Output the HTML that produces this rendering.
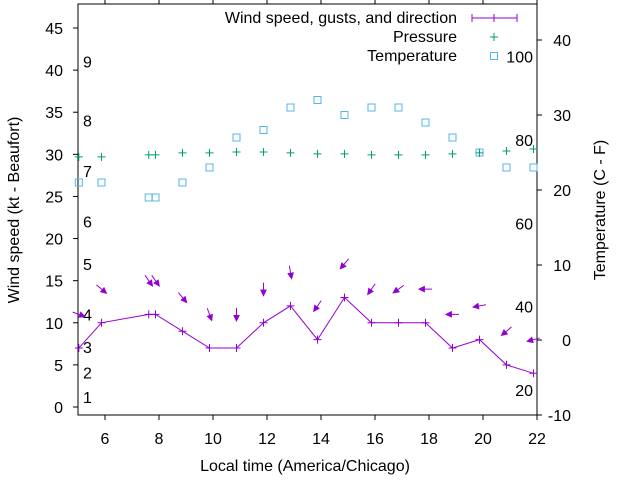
<!DOCTYPE html>
<html><head><meta charset="utf-8"><style>
body{margin:0;background:#fff}
svg{display:block;font-family:"Liberation Sans",sans-serif;font-size:16px}
</style></head><body>
<svg id="chart" width="640" height="480" viewBox="0 0 640 480">
<g id="axes"></g>
<g id="marks"></g>
<g id="legend">
<text x="457" y="23" text-anchor="end">Wind speed, gusts, and direction</text>
<g stroke="#9400d3" stroke-width="1"><line x1="472" y1="18" x2="517" y2="18"/><line x1="472" y1="14" x2="472" y2="22"/><line x1="517" y1="14" x2="517" y2="22"/><line x1="490" y1="18" x2="498" y2="18"/><line x1="494" y1="14" x2="494" y2="22"/></g>
<text x="457" y="42" text-anchor="end">Pressure</text>
<g stroke="#009e73"><line x1="490" y1="37" x2="498" y2="37"/><line x1="494" y1="33" x2="494" y2="41"/></g>
<text x="457" y="61" text-anchor="end">Temperature</text>
<rect x="490.5" y="52.5" width="7" height="7" fill="none" stroke="#56b4e9"/>
</g>
</svg>
<script>
const hours=[5.03,5.87,7.62,7.87,8.87,9.87,10.87,11.87,12.87,13.87,14.87,15.87,16.87,17.87,18.87,19.87,20.87,21.87];
const windKt=[7,10,11,11,9,7,7,10,12,8,13,10,10,10,7,8,5,4];
const gustKt=[11,14,15,15,13,11,11,14,16,12,17,14,14,14,11,12,9,8];
const windDirDeg=[290,310,325,325,320,340,0,0,350,35,40,35,55,90,90,80,50,75];
const pressureInHg=[29.70,29.70,29.93,29.93,30.17,30.17,30.28,30.28,30.17,30.05,30.05,29.93,29.93,29.93,30.05,30.17,30.40,30.64];
const tempC=[21,21,19,19,21,23,27,28,31,32,30,31,31,29,27,25,23,23];
const xTicks=[6,8,10,12,14,16,18,20,22];
const ktTicks=[0,5,10,15,20,25,30,35,40,45];
const cTicks=[-10,0,10,20,30,40];
const beaufortLabels=["1","2","3","4","5","6","7","8","9"];
const beaufortKt=[1.2,4.1,7.1,11,17,22,28,34,41];
const fTicks=[20,40,60,80,100];
const NS="http://www.w3.org/2000/svg";
const L=78,R=537,T=4,B=415;
const X=h=>L+(h-5)*27;
const Y=k=>407-k*(379/45);
const YC=c=>340-c*7.5;
const YF=f=>YC((f-32)*5/9);
function mk(tag,attrs,parent){const e=document.createElementNS(NS,tag);for(const k in attrs)e.setAttribute(k,attrs[k]);parent.appendChild(e);return e;}
const ax=document.getElementById('axes'),mg=document.getElementById('marks');
let f=mk('rect',{x:L,y:T,width:R-L,height:B-T,fill:'none',stroke:'#000'},ax);


xTicks.forEach(h=>{
 const x=X(h);
 let t=mk('line',{x1:x,y1:B,x2:x,y2:B+5,stroke:'#000'},ax);
 
 
 let t2=mk('line',{x1:x,y1:T,x2:x,y2:T-5,stroke:'#000'},ax);
 
 
 let l=mk('text',{x:x,y:444,'text-anchor':'middle'},ax);l.textContent=h;
 
 
});
ktTicks.forEach(k=>{
 const y=Y(k);
 let t=mk('line',{x1:L-5,y1:y,x2:L,y2:y,stroke:'#000'},ax);
 
 
 let l=mk('text',{x:63,y:y+6,'text-anchor':'end'},ax);l.textContent=k;
 
 
});
beaufortLabels.forEach((b,i)=>{
 let l=mk('text',{x:83,y:Y(beaufortKt[i])+6},ax);l.textContent=b;
 
 
});
cTicks.forEach(c=>{
 const y=YC(c);
 let t=mk('line',{x1:R,y1:y,x2:R+5,y2:y,stroke:'#000'},ax);
 
 
 let l=mk('text',{x:571,y:y+6,'text-anchor':'end'},ax);l.textContent=c;
 
 
});
fTicks.forEach(v=>{
 let l=mk('text',{x:533,y:YF(v)+6,'text-anchor':'end'},ax);l.textContent=v;
 
 
});
let xt=mk('text',{x:305,y:471,'text-anchor':'middle'},ax);xt.textContent='Local time (America/Chicago)';


let yt=mk('text',{x:0,y:0,'text-anchor':'middle',transform:'translate(19,210) rotate(-90)'},ax);yt.textContent='Wind speed (kt - Beaufort)';


let y2t=mk('text',{x:0,y:0,'text-anchor':'middle',transform:'translate(605,210) rotate(-90)'},ax);y2t.textContent='Temperature (C - F)';


// temperature
tempC.forEach((c,i)=>{
 let r=mk('rect',{x:X(hours[i])-3.5,y:YC(c)-3.5,width:7,height:7,fill:'none',stroke:'#56b4e9'},mg);
 
 
});
// pressure
pressureInHg.forEach((p,i)=>{
 const x=X(hours[i]),y=Y(p);
 let g=mk('path',{d:`M${x-4},${y}H${x+4}M${x},${y-4}V${y+4}`,stroke:'#009e73',fill:'none'},mg);
 
 
});
// wind line
let pl=mk('polyline',{points:hours.map((h,i)=>X(h)+','+Y(windKt[i])).join(' '),fill:'none',stroke:'#9400d3'},mg);


windKt.forEach((k,i)=>{
 const x=X(hours[i]),y=Y(k);
 let g=mk('path',{d:`M${x-4},${y}H${x+4}M${x},${y-4}V${y+4}`,stroke:'#9400d3',fill:'none'},mg);
 
 
});
// direction arrows
gustKt.forEach((g,i)=>{
 const cx=X(hours[i]),cy=Y(g),Ln=13;
 const b=(windDirDeg[i]+180)*Math.PI/180;
 const dx=Math.sin(b),dy=-Math.cos(b);
 const x1=cx-dx*Ln/2,y1=cy-dy*Ln/2,x2=cx+dx*Ln/2,y2=cy+dy*Ln/2;
 const a=Math.atan2(dy,dx),h=6,s=0.45;
 const p1=[x2-h*Math.cos(a-s),y2-h*Math.sin(a-s)],p2=[x2-h*Math.cos(a+s),y2-h*Math.sin(a+s)];
 let ar=mk('path',{d:`M${x1},${y1}L${x2},${y2}M${p1[0]},${p1[1]}L${x2},${y2}L${p2[0]},${p2[1]}Z`,stroke:'#9400d3',fill:'#9400d3','stroke-width':1},mg);
 
 
});
</script>
</body></html>
